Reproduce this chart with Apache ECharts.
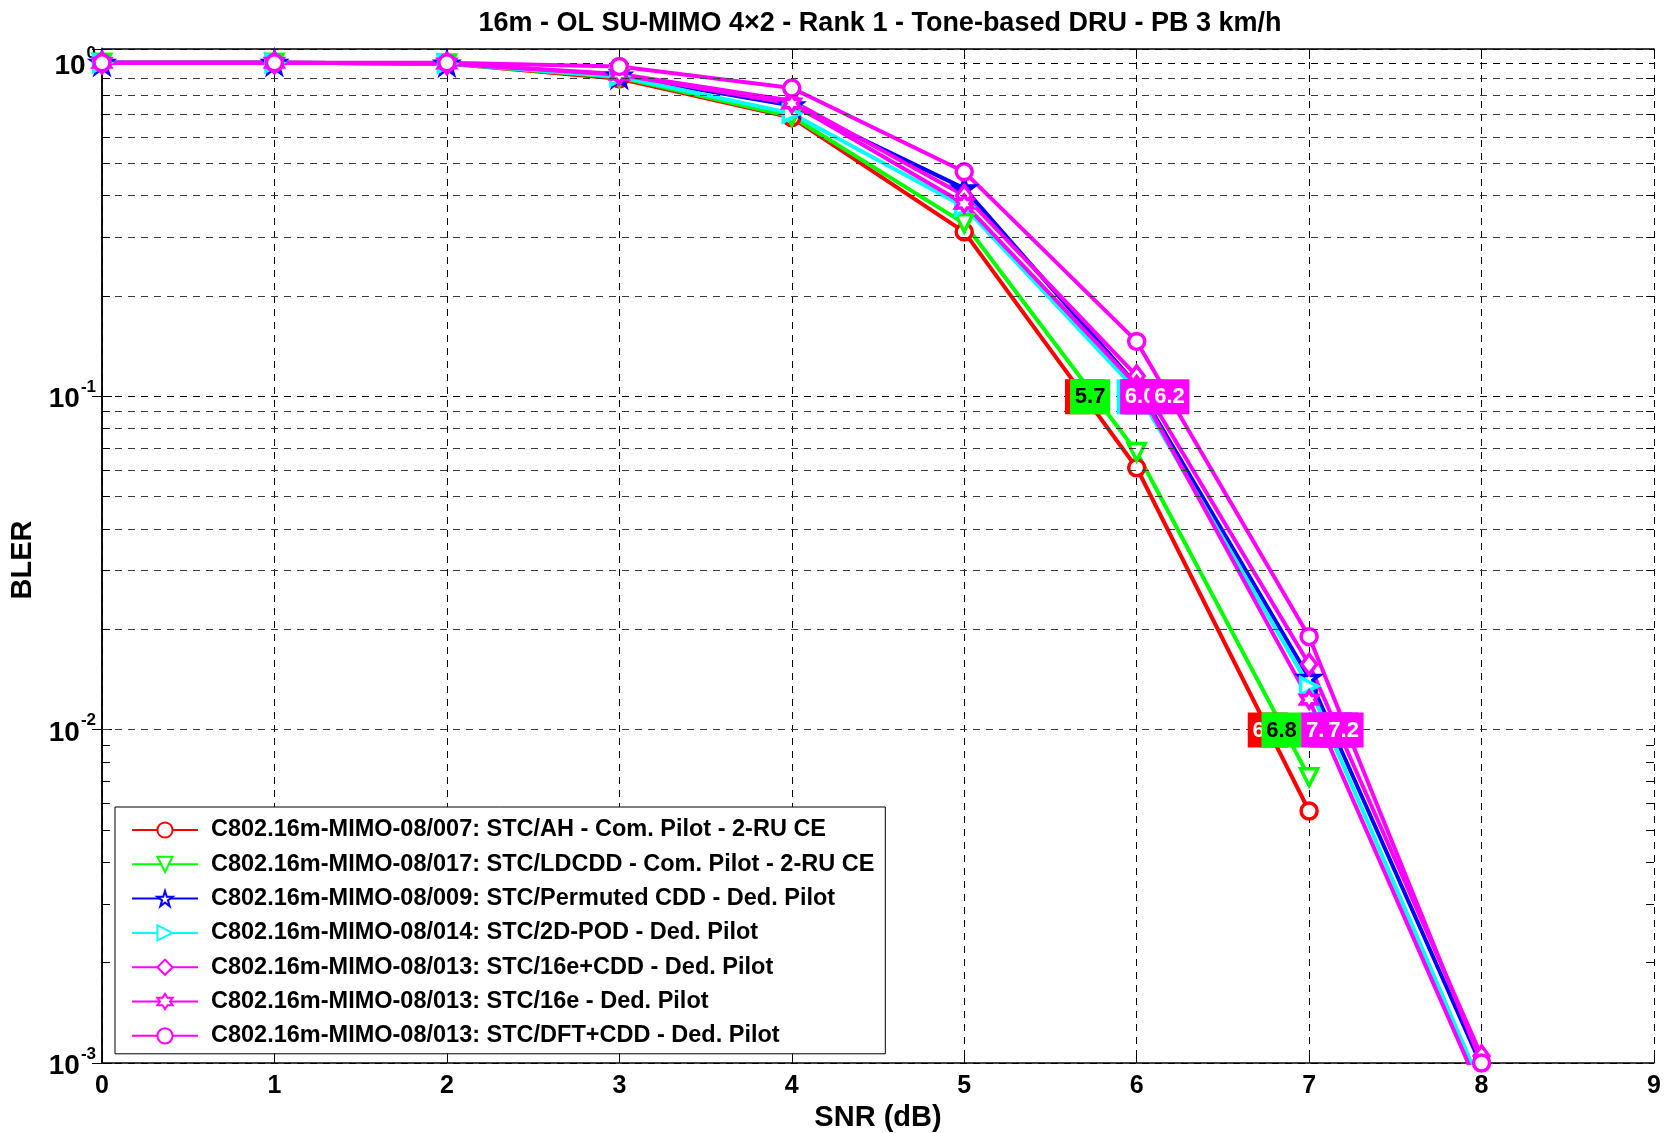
<!DOCTYPE html>
<html>
<head>
<meta charset="utf-8">
<title>BLER vs SNR</title>
<script src="https://cdn.jsdelivr.net/npm/echarts@6/dist/echarts.min.js"></script>
<style>
    html, body { margin: 0; padding: 0; background: #fff; }
    #bler_chart { width: 1667px; height: 1133px; }
</style>
</head>
<body>
<div id="bler_chart"></div>
<script>

// Chart data
// ------------------------------

var snr = [0, 1, 2, 3, 4, 5, 6, 7, 8];

var blerAH      = [1.0, 1.0, 0.995, 0.895, 0.685, 0.311, 0.061, 0.0057];
var blerLDCDD   = [1.0, 1.0, 0.995, 0.905, 0.690, 0.330, 0.068, 0.0072];
var blerPermCDD = [1.0, 1.0, 0.995, 0.915, 0.745, 0.420, 0.108, 0.0143, 0.00098];
var blerPOD     = [1.0, 1.0, 0.995, 0.910, 0.705, 0.370, 0.104, 0.0135, 0.00085];
var bler16eCDD  = [1.0, 1.0, 0.995, 0.925, 0.770, 0.400, 0.115, 0.0157, 0.00105];
var bler16e     = [1.0, 1.0, 0.995, 0.920, 0.755, 0.378, 0.108, 0.0123, 0.00081];
var blerDFTCDD  = [1.0, 1.0, 1.000, 0.975, 0.840, 0.471, 0.146, 0.0190, 0.00100];

var seriesNames = [
    'C802.16m-MIMO-08/007: STC/AH - Com. Pilot - 2-RU CE',
    'C802.16m-MIMO-08/017: STC/LDCDD - Com. Pilot - 2-RU CE',
    'C802.16m-MIMO-08/009: STC/Permuted CDD - Ded. Pilot',
    'C802.16m-MIMO-08/014: STC/2D-POD - Ded. Pilot',
    'C802.16m-MIMO-08/013: STC/16e+CDD - Ded. Pilot',
    'C802.16m-MIMO-08/013: STC/16e - Ded. Pilot',
    'C802.16m-MIMO-08/013: STC/DFT+CDD - Ded. Pilot'
];

// SNR read at the BLER targets (one value per curve)
var targetBler = [0.1, 0.01];
var snrAt01  = [5.70, 5.73, 6.04, 6.00, 6.03, 6.02, 6.19];
var snrAt001 = [6.76, 6.84, 7.13, 7.11, 7.17, 7.07, 7.20];

var xTicks = [0, 1, 2, 3, 4, 5, 6, 7, 8, 9];
var yDecades = [0.001, 0.01, 0.1, 1];


// Setup module
// ------------------------------

var BlerChart = function() {

    var font = 'Arial, "Liberation Sans", Helvetica, sans-serif';
    var colors = ['#ff0000', '#00ff00', '#0000ff', '#00ffff', '#ff00ff', '#ff00ff', '#ff00ff'];
    var labelInk = ['#fff', '#000', '#fff', '#000', '#fff', '#fff', '#fff'];

    // star outlines for the 'p' and 'h' markers
    var starPath = function(points, inner) {
        var d = '';
        for (var k = 0; k < points * 2; k++) {
            var a = (-90 + k * 180 / points) * Math.PI / 180;
            var r = k % 2 ? inner : 1;
            d += (k ? 'L' : 'M') + (r * Math.cos(a)).toFixed(4) + ' ' + (r * Math.sin(a)).toFixed(4);
        }
        return 'path://' + d + 'Z';
    };

    var markers = [
        {symbol: 'circle', size: 16, rotate: 0},
        {symbol: 'triangle', size: 17, rotate: 180},
        {symbol: starPath(5, 0.382), size: 20, rotate: 0},
        {symbol: 'triangle', size: 17, rotate: -90},
        {symbol: 'diamond', size: [15, 20], rotate: 0},
        {symbol: starPath(6, 0.577), size: 17, rotate: 0},
        {symbol: 'circle', size: 16, rotate: 0}
    ];

    var curves = [blerAH, blerLDCDD, blerPermCDD, blerPOD, bler16eCDD, bler16e, blerDFTCDD];

    var _bler = function() {
        if (typeof echarts == 'undefined') {
            console.warn('Warning - echarts.min.js is not loaded.');
            return;
        }

        var el = document.getElementById('bler_chart');
        if (!el) return;

        var chart = echarts.init(el);

        // minor grid values 2..9 of each decade
        var minor = [];
        for (var i = 0; i < yDecades.length - 1; i++) {
            for (var m = 2; m <= 9; m++) {
                minor.push(+(yDecades[i] * m).toPrecision(3));
            }
        }

        var gridMarks = [];
        minor.forEach(function(v) {
            gridMarks.push({yAxis: v});
        });
        var tickMarks = [];
        minor.forEach(function(v) {
            tickMarks.push([{coord: [xTicks[0], v]}, {coord: [xTicks[0] + 0.046, v]}]);
            tickMarks.push([{coord: [xTicks[xTicks.length - 1] - 0.046, v]}, {coord: [xTicks[xTicks.length - 1], v]}]);
        });

        var series = [{
            type: 'line',
            z: 1,
            silent: true,
            data: [],
            markLine: {
                silent: true,
                symbol: 'none',
                label: {show: false},
                animation: false,
                lineStyle: {color: '#3a3a3a', width: 1, type: [7, 6]},
                data: gridMarks
            }
        }, {
            type: 'line',
            z: 1,
            silent: true,
            data: [],
            markLine: {
                silent: true,
                symbol: 'none',
                label: {show: false},
                animation: false,
                lineStyle: {color: '#000', width: 1, type: 'solid'},
                data: tickMarks
            }
        }];

        curves.forEach(function(vals, s) {
            series.push({
                name: seriesNames[s],
                type: 'line',
                z: 3,
                symbol: markers[s].symbol,
                symbolSize: markers[s].size,
                symbolRotate: markers[s].rotate,
                showAllSymbol: true,
                lineStyle: {color: colors[s], width: 4},
                itemStyle: {color: '#fff', borderColor: colors[s], borderWidth: 3.5},
                data: vals.map(function(v, k) { return [snr[k], v]; })
            });
        });

        // level labels at 10^-1 and 10^-2
        var labelData = [];
        var labelText = [];
        [snrAt01, snrAt001].forEach(function(arr, t) {
            arr.forEach(function(x, s) {
                labelData.push([x, targetBler[t], s]);
                labelText.push(x.toFixed(1));
            });
        });

        series.push({
            type: 'custom',
            z: 6,
            silent: true,
            encode: {x: 0, y: 1},
            data: labelData,
            renderItem: function(params, api) {
                var s = api.value(2);
                var p = api.coord([api.value(0), api.value(1)]);
                return {
                    type: 'group',
                    children: [{
                        type: 'rect',
                        z2: params.dataIndex * 2,
                        shape: {x: p[0] - 20, y: p[1] - 17, width: 40, height: 35},
                        style: {fill: colors[s]}
                    }, {
                        type: 'text',
                        z2: params.dataIndex * 2 + 1,
                        x: p[0],
                        y: p[1] + 1,
                        style: {
                            text: labelText[params.dataIndex],
                            fill: labelInk[s],
                            font: 'bold 22px ' + font,
                            align: 'center',
                            verticalAlign: 'middle'
                        }
                    }]
                };
            }
        });

        chart.setOption({
            animation: false,
            backgroundColor: '#fff',

            textStyle: {
                fontFamily: font,
                color: '#000'
            },

            title: {
                text: '16m - OL SU-MIMO 4\u00d72 - Rank 1 - Tone-based DRU - PB 3 km/h',
                left: 875,
                top: 5,
                textAlign: 'center',
                textStyle: {
                    fontFamily: font,
                    fontSize: 27,
                    fontWeight: 'bold',
                    color: '#000'
                }
            },

            grid: {
                left: 102,
                right: 13,
                top: 49,
                bottom: 70,
                containLabel: false,
                outerBoundsMode: 'none'
            },

            legend: {
                data: seriesNames,
                orient: 'vertical',
                left: 115,
                top: 807,
                itemWidth: 66,
                itemHeight: 19,
                itemGap: 10.3,
                padding: [11, 11, 6, 16],
                backgroundColor: '#fff',
                borderColor: '#000',
                borderWidth: 1,
                borderRadius: 0,
                selectedMode: false,
                textStyle: {
                    fontFamily: font,
                    fontSize: 23.5,
                    fontWeight: 'bold',
                    color: '#000',
                    padding: [0, 0, 0, 8]
                }
            },

            xAxis: [{
                type: 'value',
                min: xTicks[0],
                max: xTicks[xTicks.length - 1],
                interval: 1,
                name: 'SNR (dB)',
                nameLocation: 'middle',
                nameGap: 38,
                nameTextStyle: {fontSize: 29, fontWeight: 'bold', color: '#000', fontFamily: font},
                axisLine: {lineStyle: {color: '#000', width: 1.5}},
                axisTick: {inside: true, length: 10, lineStyle: {color: '#000'}},
                axisLabel: {fontSize: 25, fontWeight: 'bold', color: '#000', margin: 11, fontFamily: font},
                splitLine: {show: true, lineStyle: {color: '#000', width: 1, type: [7, 6]}}
            }, {
                type: 'value',
                position: 'top',
                min: xTicks[0],
                max: xTicks[xTicks.length - 1],
                interval: 1,
                axisLine: {lineStyle: {color: '#000', width: 1.5}},
                axisTick: {inside: true, length: 10, lineStyle: {color: '#000'}},
                axisLabel: {show: false},
                splitLine: {show: false}
            }],

            yAxis: [{
                type: 'log',
                logBase: 10,
                min: yDecades[0],
                max: 1.1,
                interval: 1,
                name: 'BLER',
                nameLocation: 'middle',
                nameGap: 53,
                nameTextStyle: {fontSize: 29, fontWeight: 'bold', color: '#000', fontFamily: font, padding: [0, 8, 0, 0]},
                axisLine: {lineStyle: {color: '#000', width: 1.5}},
                axisTick: {inside: true, length: 10, lineStyle: {color: '#000'}},
                axisLabel: {
                    margin: 6,
                    formatter: function(v) {
                        var e = Math.log(v) / Math.LN10;
                        var r = Math.round(e);
                        if (Math.abs(e - r) > 0.01) return '';
                        return '{b|10}{s|' + r + '}';
                    },
                    rich: {
                        b: {fontSize: 28, fontWeight: 'bold', color: '#000', fontFamily: font, lineHeight: 28, verticalAlign: 'bottom'},
                        s: {fontSize: 17, fontWeight: 'bold', color: '#000', fontFamily: font, verticalAlign: 'top', padding: [0, 0, 18, 1]}
                    }
                },
                splitLine: {show: true, lineStyle: {color: '#000', width: 1, type: [7, 6]}}
            }, {
                type: 'log',
                logBase: 10,
                position: 'right',
                min: yDecades[0],
                max: 1.1,
                interval: 1,
                axisLine: {lineStyle: {color: '#000', width: 1.5}},
                axisTick: {inside: true, length: 10, lineStyle: {color: '#000'}},
                axisLabel: {show: false},
                splitLine: {show: false}
            }],

            series: series
        });

        window.addEventListener('resize', function() {
            chart.resize();
        });
    };

    return {
        init: function() {
            _bler();
        }
    };
}();

document.addEventListener('DOMContentLoaded', function() {
    BlerChart.init();
});
</script>
</body>
</html>
